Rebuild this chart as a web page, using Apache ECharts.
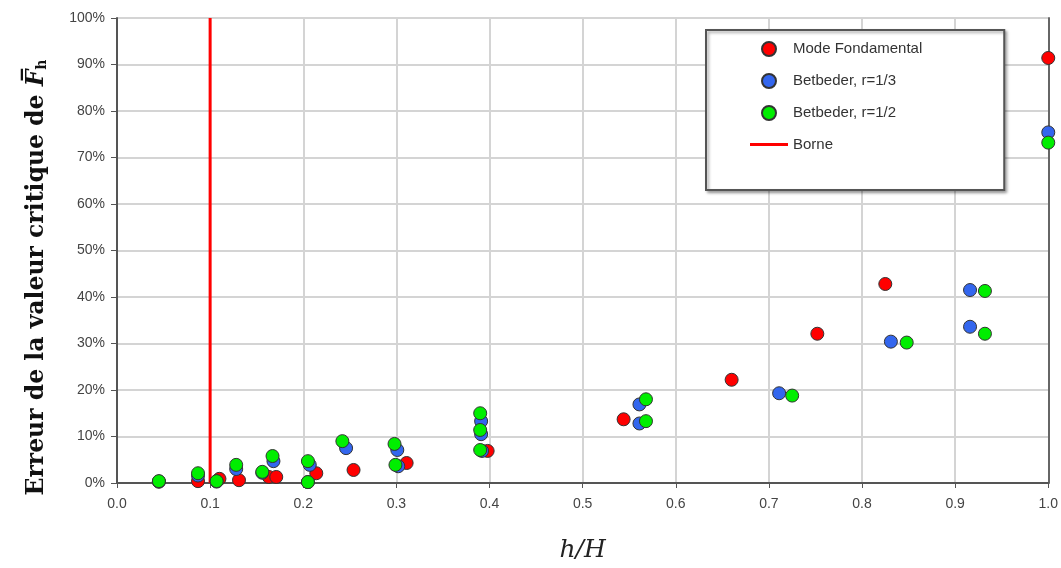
<!DOCTYPE html>
<html>
<head>
<meta charset="utf-8">
<script src="https://cdn.jsdelivr.net/npm/echarts@6/dist/echarts.min.js"></script>
<style>html,body{margin:0;padding:0;background:#fff;}#c{width:1061px;height:568px;}</style>
</head>
<body>
<div id="c"></div>
<script>
// h/H, error (%)
const modeFondamental = [
  [0.045,0.3],[0.087,0.4],[0.110,0.9],[0.131,0.6],[0.163,1.3],[0.171,1.3],[0.214,2.1],
  [0.254,2.8],[0.311,4.3],[0.398,6.9],[0.544,13.7],[0.660,22.2],[0.752,32.1],[0.825,42.8],[1.0,91.4]
];
const betbeder13 = [
  [0.045,0.3],[0.087,1.6],[0.107,0.3],[0.128,3.0],[0.156,2.2],[0.168,4.7],[0.207,3.9],[0.205,0.2],
  [0.246,7.5],[0.301,7.1],[0.302,3.6],[0.391,13.3],[0.391,10.5],[0.392,6.9],[0.561,16.9],[0.561,12.8],
  [0.711,19.3],[0.831,30.4],[0.916,41.5],[0.916,33.6],[1.0,75.4]
];
const betbeder12 = [
  [0.045,0.4],[0.087,2.1],[0.107,0.4],[0.128,3.9],[0.156,2.4],[0.167,5.8],[0.205,4.7],[0.205,0.2],
  [0.242,9.0],[0.298,8.4],[0.299,3.9],[0.390,15.0],[0.390,11.4],[0.390,7.1],[0.568,18.0],[0.568,13.3],
  [0.725,18.8],[0.848,30.2],[0.932,41.3],[0.932,32.1],[1.0,73.2]
];
const borneX = 0.1;
const borneY = [0, 100];
const seriesNames = ['Mode Fondamental','Betbeder, r=1/3','Betbeder, r=1/2','Borne'];
const xTicks = ['0.0','0.1','0.2','0.3','0.4','0.5','0.6','0.7','0.8','0.9','1.0'];

const chart = echarts.init(document.getElementById('c'), null, {renderer:'canvas'});
const markerStyle = (c) => ({color:c, borderColor:'#333', borderWidth:1, opacity:1});
chart.setOption({
  animation:false,
  backgroundColor:'#fff',
  grid:{left:117, right:11, top:18, bottom:83},
  legend:{
    orient:'vertical', left:706, top:30,
    padding:[11,82,38,44],
    itemGap:16, itemWidth:38, itemHeight:14,
    backgroundColor:'#fff', borderColor:'#555', borderWidth:2,
    shadowColor:'rgba(0,0,0,0.35)', shadowBlur:3, shadowOffsetX:2, shadowOffsetY:2,
    textStyle:{fontFamily:'Liberation Sans, Arial, sans-serif', fontSize:15, color:'#333'},
    data:[seriesNames[0], seriesNames[1], seriesNames[2],
      {name:seriesNames[3], icon:'path://M0,0 L38,0 L38,3 L0,3 Z', itemStyle:{color:'#ff0000'}}]
  },
  xAxis:{
    type:'value', min:0, max:1, interval:0.1,
    name:'h/H', nameLocation:'middle', nameGap:55,
    nameTextStyle:{fontFamily:'DejaVu Serif, serif', fontStyle:'italic', fontSize:25, color:'#222'},
    axisLine:{show:true, onZero:false, lineStyle:{color:'#555', width:2}},
    axisTick:{show:true, length:5, lineStyle:{color:'#555', width:1}},
    axisLabel:{margin:14, fontFamily:'Liberation Sans Narrow, Arial Narrow, Liberation Sans, sans-serif', fontSize:14, color:'#444',
      formatter:(v)=>xTicks[Math.round(v*10)]},
    splitLine:{show:true, lineStyle:{color:'#d4d4d4', width:2}}
  },
  yAxis:[{
    type:'value', min:0, max:100, interval:10,
    name:'{t|Erreur de la valeur critique de }{f|F̅}{s|h}', nameLocation:'middle', nameGap:68,
    nameTextStyle:{
      padding:[0,54,0,0],
      rich:{
        t:{fontFamily:'DejaVu Serif, serif', fontWeight:'bold', fontSize:23.5, color:'#111'},
        f:{fontFamily:'DejaVu Serif, serif', fontWeight:'bold', fontStyle:'italic', fontSize:23.5, color:'#111'},
        s:{fontFamily:'DejaVu Serif, serif', fontWeight:'bold', fontSize:14, color:'#111', padding:[10,0,0,0]}
      }
    },
    axisLine:{show:true, lineStyle:{color:'#555', width:2}},
    axisTick:{show:true, length:6, lineStyle:{color:'#555', width:1}},
    axisLabel:{margin:12, fontFamily:'Liberation Sans, Arial, sans-serif', fontSize:14, color:'#444', formatter:'{value}%'},
    splitLine:{show:true, lineStyle:{color:'#d4d4d4', width:2}}
  },{
    type:'value', min:0, max:100, interval:10, position:'right',
    axisLine:{show:true, lineStyle:{color:'#666', width:2}},
    axisTick:{show:false}, axisLabel:{show:false}, splitLine:{show:false}
  }],
  series:[
    {name:seriesNames[0], type:'scatter', symbol:'circle', symbolSize:13, data:modeFondamental, itemStyle:markerStyle('#ff0000'), z:3},
    {name:seriesNames[1], type:'scatter', symbol:'circle', symbolSize:13, data:betbeder13, itemStyle:markerStyle('#3366ee'), z:4},
    {name:seriesNames[2], type:'scatter', symbol:'circle', symbolSize:13, data:betbeder12, itemStyle:markerStyle('#00ee00'), z:5},
    {name:seriesNames[3], type:'line', symbol:'none', data:borneY.map(y=>[borneX,y]),
      lineStyle:{color:'#ff0000', width:3}, itemStyle:{color:'#ff0000'}, z:2}
  ]
});
</script>
</body>
</html>
